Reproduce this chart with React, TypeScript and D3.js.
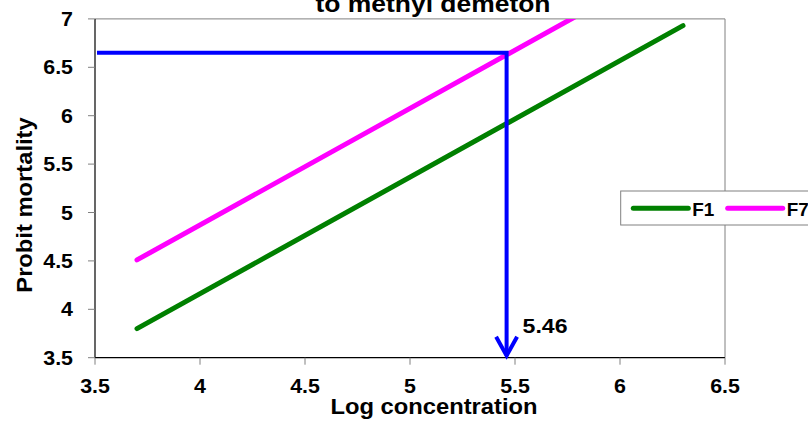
import React from "react";
import * as d3 from "d3";

// Probit regression lines (log concentration vs probit mortality)
const seriesNames = ["F1", "F7"];
const seriesColors = ["#008000", "#ff00ff"];
const logConc = [3.7, 6.3];
const f1Probit = [3.8, 6.93];
const f7Probit = [4.51, 7.64];

// LC50 read-off marker
const markerLogConc = 5.46;
const markerProbit = 6.65;
const markerLabel = "5.46";

const xTicks = [3.5, 4, 4.5, 5, 5.5, 6, 6.5];
const yTicks = [3.5, 4, 4.5, 5, 5.5, 6, 6.5, 7];

const titleText = "to methyl demeton";
const xTitle = "Log concentration";
const yTitle = "Probit mortality";

const W = 808;
const H = 427;
const plot = { left: 95, right: 725, top: 18.9, bottom: 357.7 };
const FONT = "'Liberation Sans', Arial, Helvetica, sans-serif";

function SText({ x, y, sx = 1, size, anchor = "middle", rotate = 0, children }: any) {
  return (
    <text
      transform={`translate(${x},${y}) rotate(${rotate}) scale(${sx},1)`}
      textAnchor={anchor}
      fontFamily={FONT}
      fontWeight="bold"
      fontSize={size}
      fill="#000"
    >
      {children}
    </text>
  );
}

export default function App() {
  const x = d3.scaleLinear().domain([3.5, 6.5]).range([plot.left, plot.right]);
  const y = d3.scaleLinear().domain([3.5, 7]).range([plot.bottom, plot.top]);

  const line = d3
    .line<[number, number]>()
    .x((d) => x(d[0]))
    .y((d) => y(d[1]));

  const series = [f1Probit, f7Probit].map((vals) =>
    logConc.map((c, i) => [c, vals[i]] as [number, number])
  );

  const mx = x(markerLogConc);
  const my = y(markerProbit);
  const tipY = y(3.5) - 2;

  const legendX = 620.7;
  const legendY = 191;

  return (
    <svg
      width={W}
      height={H}
      style={{ position: "absolute", left: 0, top: 0, background: "#fff" }}
    >
      <defs>
        <clipPath id="plotClip">
          <rect
            x={plot.left}
            y={plot.top}
            width={plot.right - plot.left}
            height={plot.bottom - plot.top}
          />
        </clipPath>
      </defs>

      {/* title (upper line lies above the canvas) */}
      <SText x={433} y={12} sx={1.15} size={23}>
        {titleText}
      </SText>

      {/* frame: grey top/right, black axes */}
      <line x1={plot.left} x2={plot.right} y1={plot.top} y2={plot.top} stroke="#808080" strokeWidth={1} />
      <line x1={plot.right} x2={plot.right} y1={plot.top} y2={plot.bottom} stroke="#808080" strokeWidth={1} />
      <line x1={plot.left} x2={plot.left} y1={plot.top} y2={plot.bottom} stroke="#000" strokeWidth={1.2} />
      <line x1={plot.left} x2={plot.right} y1={plot.bottom} y2={plot.bottom} stroke="#000" strokeWidth={1.2} />

      {/* y ticks */}
      {yTicks.map((t) => (
        <g key={`y${t}`}>
          <line x1={plot.left - 7} x2={plot.left} y1={y(t)} y2={y(t)} stroke="#808080" strokeWidth={1} />
          <SText x={73} y={y(t) + 7} sx={1.07} size={20} anchor="end">
            {String(t)}
          </SText>
        </g>
      ))}

      {/* x ticks */}
      {xTicks.map((t) => (
        <g key={`x${t}`}>
          <line x1={x(t)} x2={x(t)} y1={plot.bottom} y2={plot.bottom + 7} stroke="#808080" strokeWidth={1} />
          <SText x={x(t)} y={393} sx={1.07} size={20}>
            {String(t)}
          </SText>
        </g>
      ))}

      {/* axis titles */}
      <SText x={434} y={414} sx={1.08} size={22}>
        {xTitle}
      </SText>
      <SText x={32} y={205} rotate={-90} sx={1.08} size={22}>
        {yTitle}
      </SText>

      {/* regression lines */}
      <g clipPath="url(#plotClip)">
        {series.map((pts, i) => (
          <path
            key={seriesNames[i]}
            d={line(pts) || ""}
            fill="none"
            stroke={seriesColors[i]}
            strokeWidth={5}
            strokeLinecap="round"
          />
        ))}
      </g>

      {/* LC50 read-off */}
      <path
        d={`M${plot.left + 2},${my} L${mx},${my} L${mx},${tipY}`}
        fill="none"
        stroke="#0000ff"
        strokeWidth={4}
      />
      <path
        d={`M${mx - 10.5},${tipY - 19} L${mx},${tipY} L${mx + 10.5},${tipY - 19}`}
        fill="none"
        stroke="#0000ff"
        strokeWidth={4}
      />
      <SText x={mx + 16} y={332.7} sx={1.1} size={21} anchor="start">
        {markerLabel}
      </SText>

      {/* legend */}
      <rect x={legendX} y={legendY} width={200} height={34} fill="#fff" stroke="#808080" strokeWidth={1} />
      {seriesNames.map((name, i) => {
        const lx = 633.3 + i * 94.4;
        return (
          <g key={`lg${name}`}>
            <line
              x1={lx}
              x2={lx + 55}
              y1={208.3}
              y2={208.3}
              stroke={seriesColors[i]}
              strokeWidth={5}
              strokeLinecap="round"
            />
            <SText x={lx + 59} y={215.5} sx={1.05} size={18} anchor="start">
              {name}
            </SText>
          </g>
        );
      })}
    </svg>
  );
}
